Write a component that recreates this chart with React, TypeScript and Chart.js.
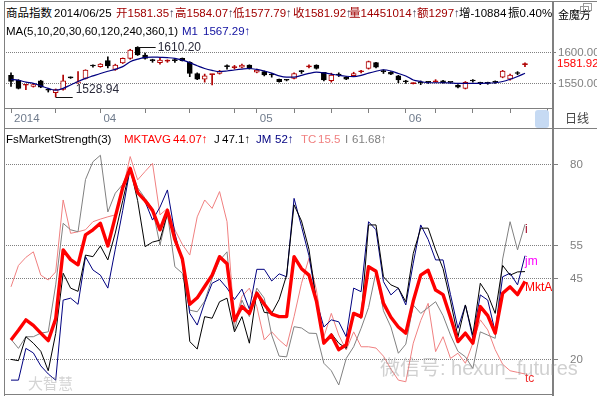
import React, { useEffect, useRef } from "react";
import { Chart, registerables } from "chart.js";

Chart.register(...registerables);

// ---------------- data ----------------
const opens = [
  1564, 1556, 1548, 1546, 1555, 1540.5, 1536, 1541.4, 1560.5, 1552,
  1559, 1579.5, 1578, 1587.6, 1573.7, 1584, 1591.4, 1609, 1596.8, 1588,
  1584.4, 1587, 1588, 1591.4, 1585, 1567, 1557.6, 1565, 1567, 1578.5,
  1576.5, 1577, 1580.6, 1568.9, 1570, 1564.8, 1557.6, 1557, 1559, 1570.3,
  1577.7, 1580.6, 1568.9, 1555.3, 1564.8, 1561, 1563.4, 1569.7, 1575, 1584.4,
  1570.3, 1569, 1563, 1554, 1550.7, 1552.3, 1552.8, 1553.5, 1555.3, 1552.8,
  1548.4, 1543, 1555, 1551.3, 1551.3, 1552.8, 1561, 1557.6, 1567.3, 1581.35,
];
const highs = [
  1568, 1557, 1549.5, 1551, 1556, 1543, 1542, 1564.5, 1561.5, 1570,
  1573, 1581, 1583, 1594, 1582, 1592, 1606, 1610.2, 1600, 1590,
  1593, 1589, 1590, 1592, 1586, 1568, 1566, 1566, 1572, 1581,
  1580, 1582, 1581, 1574, 1571, 1567, 1558, 1557.5, 1568, 1572,
  1581, 1581, 1569, 1567.5, 1568, 1562, 1569, 1572, 1587, 1585,
  1573, 1570, 1564, 1556, 1552, 1555, 1554, 1557, 1556, 1553,
  1549, 1554, 1557, 1553, 1553, 1555, 1572, 1566, 1570, 1584.07,
];
const lows = [
  1546, 1542, 1541, 1545, 1544, 1537, 1528.94, 1540, 1559, 1551,
  1558, 1577, 1577, 1576, 1572, 1583, 1590, 1596, 1590, 1585,
  1582, 1585, 1585, 1587, 1561.8, 1557, 1553, 1548.4, 1566, 1574,
  1574, 1576, 1574, 1568, 1563, 1561, 1553, 1555, 1558, 1567,
  1576, 1574, 1555, 1553, 1562, 1557, 1562, 1568, 1574, 1576,
  1567, 1565, 1552, 1551, 1550, 1549, 1551, 1553, 1551.5, 1552,
  1543.5, 1542, 1553, 1549, 1549.5, 1551, 1560, 1556, 1565, 1577.79,
];
const closes = [
  1554, 1543, 1549, 1549, 1545, 1540, 1541, 1555, 1560, 1553.5,
  1572.6, 1579, 1582, 1579, 1580.6, 1591.4, 1604.8, 1597, 1591.4, 1587.6,
  1588.7, 1588, 1587.6, 1587.6, 1567, 1557.6, 1563, 1565.6, 1571, 1578,
  1577.5, 1580.6, 1575, 1572.6, 1564.5, 1564.5, 1553.7, 1556, 1567, 1570,
  1578, 1575, 1556.5, 1564.5, 1564.5, 1557.6, 1567, 1570, 1586, 1577,
  1570, 1566, 1556.5, 1553.7, 1551, 1552, 1552.5, 1553.7, 1552, 1552.5,
  1544.7, 1552.7, 1554.8, 1551, 1551, 1552.5, 1571, 1564.5, 1567, 1581.92,
];
const ma1 = [
  1557.6, 1556, 1553, 1551, 1547, 1543, 1540, 1543, 1548.5, 1554,
  1559, 1563, 1567, 1570.5, 1573.7, 1578, 1586, 1590, 1593, 1593.5,
  1593, 1592.5, 1591.4, 1588.5, 1584.4, 1579.5, 1575, 1572, 1570, 1571,
  1572.6, 1574, 1575, 1573.5, 1571, 1567.5, 1563, 1561, 1561, 1564,
  1567, 1569, 1568, 1566, 1564, 1562.5, 1562, 1564, 1567.5, 1570.5,
  1573, 1571, 1567, 1563, 1556.5, 1554, 1552, 1552, 1552, 1551.5,
  1551, 1551, 1551, 1551, 1551.5, 1552, 1554, 1557.6, 1562, 1567.29,
];

const mktavg = [
  26, 29, 32.2, 30.5, 28.1, 25.8, 32.5, 53.8, 50.8, 49.2,
  58.4, 60, 62, 55, 64, 73, 79, 71.5, 69, 66,
  60, 66, 57, 51, 37, 39, 42.5, 46, 51.7, 49.5,
  32, 36.3, 34.2, 40.4, 37, 34, 33.2, 33.2, 51.7, 48,
  46, 38, 25, 27.5, 23, 24.5, 34.2, 33.2, 48.6, 47.2,
  37.3, 33, 30, 28.1, 38, 46, 47.5, 41.4, 40, 33,
  25.5, 28.1, 25, 36.3, 33.5, 28.1, 40.4, 42.4, 40, 44.07,
];
const jLine = [
  20, 19.6, 27, 25, 22.5, 16.5, 28, 46.6, 42, 41,
  52.2, 51.7, 55, 50.7, 59, 69, 79, 69, 54.8, 56.2,
  56.8, 65, 56.8, 50.5, 25.5, 23.2, 33.2, 32.7, 37.8, 38.9,
  28.5, 33.2, 25, 40.9, 34.5, 34.2, 38.5, 46, 67.7, 62.7,
  54, 38, 25.5, 28, 25, 23.4, 34.2, 32.7, 61.5, 61.5,
  45.5, 43, 42, 37.8, 52.7, 60.5, 60.5, 53.8, 48, 38,
  27, 36.8, 27.5, 43.5, 40, 34.2, 49, 46, 47, 47.1,
];
const jmLine = [
  13.6, 13.6, 23.4, 22, 18, 15.5, 13.6, 38.3, 38.9, 37,
  51.7, 47.6, 46, 42, 54, 66, 79, 71.3, 68.7, 63,
  67, 72.3, 58.9, 50, 34.2, 30.6, 37.6, 43.5, 44.7, 42,
  38.5, 41.7, 35.5, 47.8, 47.8, 44.2, 46.4, 45.5, 69.7, 61,
  52, 38, 30, 32.2, 31.6, 27, 42, 40.9, 62.5, 60,
  44, 39.9, 42, 36.8, 49.7, 61.5, 57, 50.7, 50.7, 40,
  29.6, 36.8, 26.5, 39.9, 38.3, 28.5, 45.5, 46.6, 43, 52,
];
const tcLine = [
  42.4, 49, 51.5, 53.2, 46, 44.5, 47, 69.2, 58.9, 59.4,
  60, 62.5, 63.3, 64, 64.6, 72.5, 82.6, 75.4, 78, 80.5,
  64.6, 66.6, 60, 55.5, 52.2, 64, 69.2, 66.6, 71.8, 62.5,
  31.1, 39.4, 42, 36.3, 26, 28.5, 26, 24, 33.2, 43.5,
  51.2, 41.4, 27, 34.2, 27.5, 22.9, 28.5, 23.9, 23.9, 23.5,
  21, 17, 13.6, 13.1, 25, 32, 37.3, 22.4, 27, 20.3,
  21.9, 18.8, 25, 32.2, 29.1, 23, 18.5, 16.5, 16, 15.5,
];
const iLine = [
  26.2, 23.4, 27, 27, 28.1, 28.5, 43, 62, 60, 59.4,
  75.5, 81, 83, 65.5, 71.3, 74, 79, 73, 69.7, 66.5,
  55.3, 65, 48.6, 46.6, 35.2, 34.7, 38, 45, 50.5, 53.2,
  29.1, 38.3, 33.2, 42, 38.9, 27.5, 21, 20.8, 30.1, 29.7,
  28.1, 28, 18.8, 16.5, 12.1, 20.3, 23.9, 29.6, 36, 47,
  35, 30, 21.9, 24.7, 36.8, 34.2, 36, 37.8, 33.5, 27.5,
  22.5, 20.8, 17.2, 28.5, 27.5, 26.5, 51, 62.5, 53.8, 61.68,
];

const dateTicks = [0, 6, 12, 18, 24, 30, 33, 38, 43, 48, 53, 57, 62, 67, 72];
const dateTickLabels = ["2014", "", "04", "", "", "", "05", "", "", "", "06", "", "", "", ""];
const priceTicks = [1550, 1600];
const strengthTicks = [20, 45, 55, 80];

const dateLabel = "2014/06/25";
const volume = "14451014";
const amount = "1297";
const change = "-10884";
const amplitude = "0.40%";

// ---------------- style ----------------
const FONT = '"Liberation Sans", "DejaVu Sans", "Noto Sans CJK SC", sans-serif';
const N = closes.length;
const LAST = N - 1;
const X_MIN = -0.94;
const X_MAX = 72.76;
const UP = "#b00000";
const DOWN = "#000000";
const HDR_RED = "#a00000";
const ARROW = "#3a3a55";
const GRID = "#808080";

const xy = (arr: number[]) => arr.map((v, i) => ({ x: i, y: v }));

const pricePlugin = {
  id: "priceMarks",
  afterDraw(chart: any) {
    const { ctx, chartArea } = chart;
    const x = chart.scales.x;
    const y = chart.scales.y;
    let hi = 0;
    let lo = 0;
    highs.forEach((h, i) => { if (h > highs[hi]) hi = i; });
    lows.forEach((l, i) => { if (l < lows[lo]) lo = i; });
    ctx.save();
    ctx.strokeStyle = "#111";
    ctx.lineWidth = 1;
    ctx.font = "12px " + FONT;
    ctx.fillStyle = "#2a2a3a";
    ctx.textAlign = "left";
    ctx.textBaseline = "middle";
    const hx = x.getPixelForValue(hi);
    const hy = Math.round(y.getPixelForValue(highs[hi])) + 0.5;
    ctx.beginPath();
    ctx.moveTo(hx, hy);
    ctx.lineTo(hx + 18, hy);
    ctx.stroke();
    ctx.fillText(highs[hi].toFixed(2), hx + 20, hy);
    const lx = x.getPixelForValue(lo);
    const ly = Math.round(y.getPixelForValue(lows[lo])) + 0.5;
    ctx.beginPath();
    ctx.moveTo(lx, ly);
    ctx.lineTo(lx + 17, ly);
    ctx.stroke();
    ctx.fillText(lows[lo].toFixed(2), lx + 20, ly - 8);
    ctx.font = "11.5px " + FONT;
    ctx.fillStyle = "#ff0000";
    ctx.fillText(closes[LAST].toFixed(2), chartArea.right + 4, y.getPixelForValue(closes[LAST]));
    ctx.restore();
  },
};

const endLabelPlugin = {
  id: "endLabels",
  afterDraw(chart: any) {
    const { ctx } = chart;
    const x = chart.scales.x;
    const y = chart.scales.y;
    const items: [string, string, number[], number][] = [
      ["i", "#a00020", iLine, 5],
      ["jm", "#ff00ff", jmLine, 6],
      ["MktA", "#ff0000", mktavg, 6],
      ["tc", "#f03030", tcLine, 5],
    ];
    ctx.save();
    ctx.font = "12px " + FONT;
    ctx.textAlign = "left";
    ctx.textBaseline = "middle";
    items.forEach(([t, c, arr, dy]) => {
      ctx.fillStyle = c;
      ctx.fillText(t, x.getPixelForValue(LAST), y.getPixelForValue(arr[LAST]) + dy);
    });
    ctx.restore();
  },
};

type Seg = { x: number; parts: [string, string][] };

const row1: Seg[] = [
  { x: 6, parts: [["商品指数", "#000"]] },
  { x: 54, parts: [[dateLabel, "#000"]] },
  { x: 116, parts: [["开" + opens[LAST].toFixed(2), HDR_RED], ["↑", ARROW]] },
  { x: 175, parts: [["高" + highs[LAST].toFixed(2), HDR_RED], ["↑", ARROW]] },
  { x: 233, parts: [["低" + lows[LAST].toFixed(2), HDR_RED], ["↑", ARROW]] },
  { x: 293, parts: [["收" + closes[LAST].toFixed(2), HDR_RED], ["↑", ARROW]] },
  { x: 349, parts: [["量" + volume, HDR_RED], ["↑", ARROW]] },
  { x: 417, parts: [["额" + amount, HDR_RED], ["↑", ARROW]] },
  { x: 459, parts: [["增" + change, "#000"]] },
  { x: 508, parts: [["振" + amplitude, "#000"]] },
];
const row2: Seg[] = [
  { x: 6, parts: [["MA(5,10,20,30,60,120,240,360,1)", "#000"]] },
  { x: 182, parts: [["M1", "#1010a0"]] },
  { x: 203, parts: [[ma1[LAST].toFixed(2) + "↑", "#1010a0"]] },
];
const row3: Seg[] = [
  { x: 6, parts: [["FsMarketStrength(3)", "#000"]] },
  { x: 124, parts: [["MKTAVG", "#ff0000"]] },
  { x: 173, parts: [[mktavg[LAST].toFixed(2) + "↑", "#ff0000"]] },
  { x: 214, parts: [["J", "#000"]] },
  { x: 222, parts: [[String(jLine[LAST]) + "↑", "#000"]] },
  { x: 256, parts: [["JM", "#000080"]] },
  { x: 275, parts: [[String(jmLine[LAST]) + "↑", "#000080"]] },
  { x: 301, parts: [["TC", "#f08080"]] },
  { x: 318, parts: [[String(tcLine[LAST]), "#f08080"]] },
  { x: 345, parts: [["I", "#808080"]] },
  { x: 352, parts: [[iLine[LAST].toFixed(2) + "↑", "#808080"]] },
];

function Row({ segs, top }: { segs: Seg[]; top: number }) {
  return (
    <>
      {segs.map((s, k) => (
        <div
          key={k}
          style={{ position: "absolute", left: s.x, top, whiteSpace: "nowrap", lineHeight: "14px" }}
        >
          {s.parts.map(([t, c], j) => (
            <span key={j} style={{ color: c }}>{t}</span>
          ))}
        </div>
      ))}
    </>
  );
}

function Line({ l, t, w, h, c = GRID }: { l: number; t: number; w: number; h: number; c?: string }) {
  return <div style={{ position: "absolute", left: l, top: t, width: w, height: h, background: c }} />;
}

export default function App() {
  const priceRef = useRef<HTMLCanvasElement>(null);
  const indRef = useRef<HTMLCanvasElement>(null);

  useEffect(() => {
    Chart.defaults.font.family = FONT;
    const isUp = closes.map((c, i) => c >= opens[i]);
    const edge = isUp.map((u) => (u ? UP : DOWN));
    const fill = closes.map((c, i) =>
      isUp[i] ? (Math.abs(c - opens[i]) < 1.2 ? UP : "#ffffff") : DOWN
    );

    const priceChart = new Chart(priceRef.current as HTMLCanvasElement, {
      type: "bar",
      data: {
        datasets: [
          {
            type: "line",
            data: xy(ma1),
            borderColor: "#000080",
            borderWidth: 1.2,
            pointRadius: 0,
            cubicInterpolationMode: "monotone",
          } as any,
          {
            type: "bar",
            data: opens.map((o, i) => ({ x: i, y: [o, closes[i]] })),
            backgroundColor: fill,
            borderColor: edge,
            borderWidth: 1,
            borderSkipped: false,
            barThickness: 5,
            grouped: false,
            minBarLength: 1,
          } as any,
          {
            type: "bar",
            data: lows.map((l, i) => ({ x: i, y: [l, highs[i]] })),
            backgroundColor: edge,
            borderWidth: 0,
            barThickness: 1,
            grouped: false,
          } as any,
        ],
      },
      options: {
        animation: false,
        responsive: false,
        maintainAspectRatio: false,
        events: [],
        layout: { padding: 0 },
        plugins: { legend: { display: false }, tooltip: { enabled: false } },
        scales: {
          x: {
            type: "linear",
            min: X_MIN,
            max: X_MAX,
            offset: false,
            position: "bottom",
            grid: {
              offset: false,
              drawOnChartArea: false,
              drawTicks: true,
              tickLength: 5,
              color: GRID,
              tickColor: GRID,
            },
            border: { display: false },
            afterBuildTicks: (s: any) => {
              s.ticks = dateTicks.map((v) => ({ value: v }));
            },
            afterFit: (s: any) => {
              s.height = 20;
              s.paddingLeft = 0;
              s.paddingRight = 0;
            },
            ticks: {
              autoSkip: false,
              maxRotation: 0,
              minRotation: 0,
              align: "start",
              labelOffset: 3,
              padding: -1,
              color: "#6f7b8c",
              font: { size: 11.5, family: FONT },
              callback: (_v: any, i: number) => dateTickLabels[i],
            },
          },
          y: {
            type: "linear",
            position: "right",
            min: 1511.29,
            max: 1624.19,
            grid: { color: GRID, drawTicks: true, tickLength: 3, tickColor: GRID, tickBorderDash: [] },
            border: { display: false, dash: [1, 1] },
            afterBuildTicks: (s: any) => {
              s.ticks = priceTicks.map((v) => ({ value: v }));
            },
            afterFit: (s: any) => {
              s.width = 44;
              s.paddingTop = 0;
              s.paddingBottom = 0;
            },
            ticks: {
              padding: 2,
              color: GRID,
              font: { size: 11.5, family: FONT },
              callback: (v: any) => Number(v).toFixed(2),
            },
          },
        },
      } as any,
      plugins: [pricePlugin],
    });

    const indChart = new Chart(indRef.current as HTMLCanvasElement, {
      type: "line",
      data: {
        datasets: [
          { label: "MKTAVG", data: xy(mktavg), borderColor: "#ff0000", borderWidth: 3.4 },
          { label: "J", data: xy(jLine), borderColor: "#000000", borderWidth: 1 },
          { label: "JM", data: xy(jmLine), borderColor: "#000080", borderWidth: 1 },
          { label: "I", data: xy(iLine), borderColor: "#808080", borderWidth: 1 },
          { label: "TC", data: xy(tcLine), borderColor: "#f08080", borderWidth: 1 },
        ],
      },
      options: {
        animation: false,
        responsive: false,
        maintainAspectRatio: false,
        events: [],
        layout: { padding: 0 },
        elements: { point: { radius: 0 }, line: { tension: 0, borderJoinStyle: "round" } },
        plugins: { legend: { display: false }, tooltip: { enabled: false } },
        scales: {
          x: { type: "linear", min: X_MIN, max: X_MAX, display: false },
          y: {
            type: "linear",
            position: "right",
            min: 9.63,
            max: 85.86,
            grid: { color: GRID, drawTicks: true, tickLength: 5, tickColor: GRID, tickBorderDash: [] },
            border: { display: false, dash: [1, 1] },
            afterBuildTicks: (s: any) => {
              s.ticks = strengthTicks.map((v) => ({ value: v }));
            },
            afterFit: (s: any) => {
              s.width = 44;
              s.paddingTop = 0;
              s.paddingBottom = 0;
            },
            ticks: {
              padding: 12,
              color: GRID,
              font: { size: 11.5, family: FONT },
              callback: (v: any) => String(v),
            },
          },
        },
      } as any,
      plugins: [endLabelPlugin],
    });

    return () => {
      priceChart.destroy();
      indChart.destroy();
    };
  }, []);

  return (
    <div
      style={{
        position: "absolute",
        left: 0,
        top: 0,
        width: 597,
        height: 397,
        background: "#ffffff",
        overflow: "hidden",
        fontFamily: FONT,
        fontSize: "11.5px",
      }}
    >
      <canvas
        ref={priceRef}
        width={593}
        height={90}
        style={{ position: "absolute", left: 4, top: 38, width: 593, height: 90 }}
      />
      <canvas
        ref={indRef}
        width={593}
        height={247}
        style={{ position: "absolute", left: 4, top: 146, width: 593, height: 247 }}
      />

      {/* frame */}
      <Line l={4} t={1} w={593} h={1} />
      <Line l={4} t={1} w={1} h={395} />
      <Line l={552} t={1} w={2} h={395} />
      <Line l={4} t={108} w={549} h={1} />
      <Line l={4} t={128} w={593} h={1} />
      <Line l={4} t={394} w={549} h={1} />

      {/* header texts */}
      <Row segs={row1} top={6} />
      <Row segs={row2} top={24} />
      <Row segs={row3} top={132} />

      <div style={{ position: "absolute", left: 558, top: 8, fontSize: "11px", lineHeight: "14px", color: "#000" }}>
        金魔方
      </div>
      <div style={{ position: "absolute", left: 580, top: 6, width: 7, height: 6, border: "1px solid #999" }} />
      <div style={{ position: "absolute", left: 583, top: 3, width: 7, height: 6, border: "1px solid #999", background: "transparent" }} />

      <div style={{ position: "absolute", left: 535, top: 110, width: 14, height: 18, background: "#c6daf3", borderRadius: 3 }} />
      <div style={{ position: "absolute", left: 565, top: 112, fontSize: "12px", lineHeight: "14px", color: "#444" }}>
        日线
      </div>

      {/* watermarks */}
      <div style={{ position: "absolute", left: 28, top: 376, fontSize: "15px", lineHeight: "16px", color: "rgba(160,160,160,0.45)", whiteSpace: "nowrap" }}>
        大智慧
      </div>
      <div style={{ position: "absolute", left: 380, top: 356, fontSize: "20px", lineHeight: "24px", color: "rgba(150,150,150,0.45)", whiteSpace: "nowrap" }}>
        微信号: hexun_futures
      </div>
    </div>
  );
}
